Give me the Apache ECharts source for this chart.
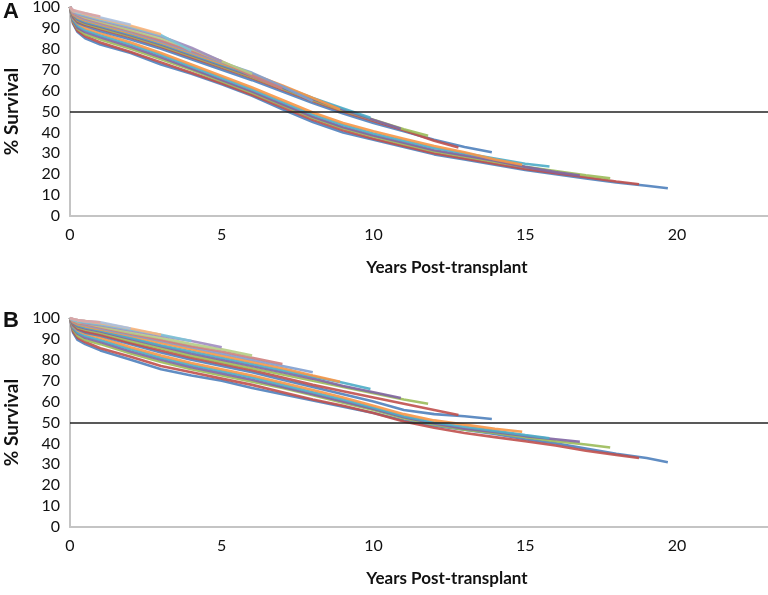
<!DOCTYPE html>
<html>
<head>
<meta charset="utf-8">
<script src="https://cdn.jsdelivr.net/npm/echarts@6/dist/echarts.min.js"></script>
<style>html,body{margin:0;padding:0;background:#fff}#chart{width:768px;height:595px}</style>
</head>
<body>
<div id="chart"></div>
<script>
// Shared time grid (years post-transplant) and follow-up length of each cohort
const yearGrid = [0, 0.1, 0.25, 0.5, 1, 2, 3, 4, 5, 6, 7, 8, 9, 10, 11, 12, 13, 14, 15, 16, 17, 18, 19];
const followUp = [19.7, 18.75, 17.8, 16.8, 15.8, 14.9, 13.9, 12.8, 11.8, 10.9, 9.9, 8.9, 8, 7, 6, 5, 4, 3, 2, 1];
const xTicks = [0, 5, 10, 15, 20];
const yTicks = [0, 10, 20, 30, 40, 50, 60, 70, 80, 90, 100];
const refLine = 50;

// Panel A survival (%) per cohort
const survA1 = [100,92,88,85,82,78,72.5,68,63,57.5,51,45,40,36.5,33,29.5,27,24.5,22,20,18,16,14.5,13.3];
const survA2 = [100,92.5,88.5,86,83,78.5,73.5,68.5,63.5,58,52,46,41,37,33.5,30,27.5,25,22.5,20.5,18.5,16.5,15.2];
const survA3 = [100,93,89.5,87,84.5,80,75,70,64.5,59,53,47,42,38,34.5,31,28.5,26,23.5,21.5,19.5,18];
const survA4 = [100,93.5,90,88,85.5,81,76,70.5,65,59.5,53.5,47.5,42.5,38.5,35,31.5,29,26.5,23.5,21,19.4];
const survA5 = [100,94,91,89,86.5,82,77,71.5,66,60.5,54.5,48.5,43.5,39.5,36,32.5,30,27.5,25,23.7];
const survA6 = [100,94.5,92,90,87.5,83,78,72.5,67,61.5,55.5,49.5,44.5,40.5,37,33.5,30.5,27,24.5];
const survA7 = [100,95,92.5,91,88.5,84.5,80,75,70,65,59.5,54,49,44.5,40.5,36.5,33,30.5];
const survA8 = [100,95.5,93,91.5,89.5,85.5,81,76,71,66,60.5,55,50,45.5,41,36,32.8];
const survA9 = [100,96,93.5,92,90,86,81.5,76.5,71.5,66.5,61,55.5,50.5,46,41.5,38.4];
const survA10 = [100,96,94,92.5,90.5,86.5,82,77,72,67,61.5,56,51,46,41.7];
const survA11 = [100,96.5,94.5,93,91,87,82.5,77.5,72.5,67.5,62,56.5,51.5,47];
const survA12 = [100,96.5,95,93.5,91.5,87.5,83,78,73,68,62.5,56.5,51];
const survA13 = [100,97,95.5,94,92,88,83.5,78.5,73.5,68.5,62,55];
const survA14 = [100,97,96,94.5,92.5,88.5,84,79,74,67,61];
const survA15 = [100,97.5,96.5,95,93,89,85,80,74,68];
const survA16 = [100,97.5,96.5,95.5,93.5,90,86,80.5,74];
const survA17 = [100,98,97,96,94,90.5,86.5,79];
const survA18 = [100,98,97.5,96.5,94.5,91,87];
const survA19 = [100,98.5,97.5,97,95,91.5];
const survA20 = [100,98.5,98,97,95.5];

// Panel B survival (%) per cohort
const survB1 = [100,93,89.5,87.5,84.5,80,75.5,72.5,70,66.5,63.5,60.5,57.5,54.5,51,48.5,46.5,44.5,42,40,37.5,35,33,31];
const survB2 = [100,93.5,90.5,88.5,85.5,81.5,77,74,71,68,64.5,61,58,54.5,50.5,47.5,45,43,41,39,36.5,34.5,33];
const survB3 = [100,94.5,91.5,89.5,87.5,83,79,75.5,72.5,69.5,66.5,63,59.5,56,52,49,46.5,45,43,41,39.5,38];
const survB4 = [100,95,92.5,90.5,88.5,84,80,76.5,73.5,70.5,67,63.5,60,56.5,52.5,49.5,47,45.5,43.5,42,40.8];
const survB5 = [100,95.5,93,91.5,89.5,85,81,77.5,74.5,71.5,68,64.5,61,57,53,50,48,46,44,42.5];
const survB6 = [100,96,94,92.5,90.5,86,82,78.5,75.5,72.5,69,65.5,62,58,54,51,49,47,45.6];
const survB7 = [100,96.5,94.5,93,91.5,87.5,83.5,80,77,74,70.5,67,63.5,60,56,54,53,51.7];
const survB8 = [100,97,95,93.5,92,88,84.5,81,78,75,71.5,68,65,62,59,56,53.6];
const survB9 = [100,97.5,95.5,94.5,93,89,85.5,82,79,76,73,70,67,64,61,59];
const survB10 = [100,97.5,96,95,93.5,90,86.5,83,80,77,74,71,67.5,64.5,61.7];
const survB11 = [100,98,96.5,95.5,94,90.5,87,84,81,78,75,72,69,66];
const survB12 = [100,98,97,96,94.5,91.5,88,85,82,79,76,72.5,69.5];
const survB13 = [100,98.5,97.5,96.5,95,92,89,86,83,80,77,74];
const survB14 = [100,98.5,97.5,97,95.5,92.5,89.5,86.5,84,81,78];
const survB15 = [100,99,98,97.5,96,93,90.5,87.5,85,82];
const survB16 = [100,99,98.5,97.5,96.5,94,91.5,89,86];
const survB17 = [100,99,98.5,98,97,94.5,92,89];
const survB18 = [100,99.5,99,98.5,97.5,95,92];
const survB19 = [100,99.5,99,98.5,98,95];
const survB20 = [100,99.5,99,98.5,98];

const panelA = [survA1,survA2,survA3,survA4,survA5,survA6,survA7,survA8,survA9,survA10,survA11,survA12,survA13,survA14,survA15,survA16,survA17,survA18,survA19,survA20];
const panelB = [survB1,survB2,survB3,survB4,survB5,survB6,survB7,survB8,survB9,survB10,survB11,survB12,survB13,survB14,survB15,survB16,survB17,survB18,survB19,survB20];

const colors = ['#4F81BD','#C0504D','#9BBB59','#8064A2','#4BACC6','#F79646',
                '#4F81BD','#C0504D','#9BBB59','#8064A2','#4BACC6','#F79646',
                '#7F9FCF','#CF7F7D','#B5CC85','#A08CC0','#7DC3D6','#F9B27A','#A9C0E0','#DDA3A2'];

function pairs(vals, end) {
  const times = yearGrid.filter(t => t < end - 1e-9);
  times.push(end);
  return vals.map((v, i) => [times[i], v]);
}

const FONT = 'Lato';
const series = [];
[panelA, panelB].forEach((panel, p) => {
  panel.forEach((vals, k) => {
    const s = {
      type: 'line', name: (p ? 'B' : 'A') + ' cohort ' + (k + 1),
      xAxisIndex: p, yAxisIndex: p,
      data: pairs(vals, followUp[k]),
      showSymbol: false, symbol: 'none',
      lineStyle: { width: 2.6, color: colors[k], opacity: 0.9 },
      itemStyle: { color: colors[k] },
      z: 2
    };
    if (k === 0) {
      s.markLine = {
        silent: true, symbol: 'none', label: { show: false }, z: 5,
        lineStyle: { color: '#222', width: 1.5, type: 'solid' },
        data: [{ yAxis: refLine }]
      };
    }
    series.push(s);
  });
});

function xAxisCfg(idx) {
  return {
    type: 'value', gridIndex: idx, min: xTicks[0], max: 23, interval: 5,
    axisLine: { show: true, lineStyle: { color: '#C4C4C4', width: 2 } },
    axisTick: { show: false }, splitLine: { show: false },
    axisLabel: { fontSize: 16, color: '#111', fontFamily: FONT, margin: 11, showMaxLabel: false },
    name: 'Years Post-transplant', nameLocation: 'middle', nameGap: 43,
    nameTextStyle: { fontSize: 17, fontWeight: 'bold', color: '#111', fontFamily: FONT, padding: [0, 0, 0, 56] }
  };
}
function yAxisCfg(idx) {
  return {
    type: 'value', gridIndex: idx, min: yTicks[0], max: yTicks[yTicks.length - 1], interval: 10,
    axisLine: { show: true, lineStyle: { color: '#C4C4C4', width: 2 } },
    axisTick: { show: false }, splitLine: { show: false },
    axisLabel: { fontSize: 16, color: '#111', fontFamily: FONT, margin: 10 },
    name: '% Survival', nameLocation: 'middle', nameGap: 42, nameRotate: 90,
    nameTextStyle: { fontSize: 19, fontWeight: 'bold', color: '#111', fontFamily: FONT }
  };
}

const chart = echarts.init(document.getElementById('chart'), null, { renderer: 'canvas' });
chart.setOption({
  animation: false,
  backgroundColor: '#fff',
  title: [
    { text: 'A', left: 3, top: 1, padding: 0, textStyle: { fontSize: 22, fontWeight: 'bold', color: '#111', fontFamily: 'Liberation Sans' } },
    { text: 'B', left: 3, top: 310, padding: 0, textStyle: { fontSize: 22, fontWeight: 'bold', color: '#111', fontFamily: 'Liberation Sans' } }
  ],
  grid: [
    { left: 70, right: 0, top: 7, height: 209, outerBoundsMode: 'none', containLabel: false },
    { left: 70, right: 0, top: 318, height: 209, outerBoundsMode: 'none', containLabel: false }
  ],
  xAxis: [xAxisCfg(0), xAxisCfg(1)],
  yAxis: [yAxisCfg(0), yAxisCfg(1)],
  series: series
});
</script>
</body>
</html>
